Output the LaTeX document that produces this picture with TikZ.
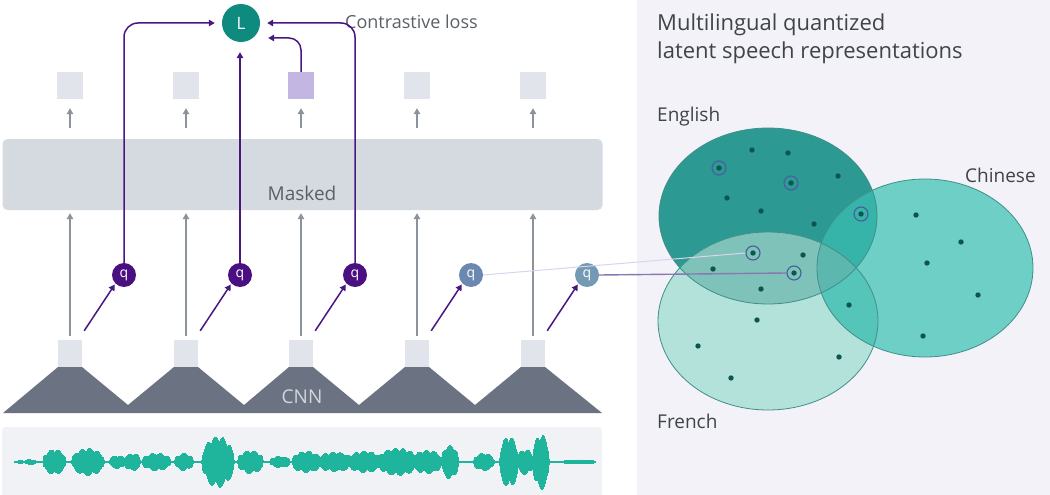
\documentclass[tikz,border=0pt]{standalone}
\usepackage{fontspec}
\setmainfont{Open Sans}
\usetikzlibrary{arrows.meta,calc}
\definecolor{purp}{HTML}{4A1682}
\definecolor{qpurp}{HTML}{4A0F80}
\definecolor{qblueA}{HTML}{6A88B0}
\definecolor{qblueB}{HTML}{7399B4}
\definecolor{garrow}{HTML}{8C929B}
\definecolor{boxgray}{HTML}{D5D9E0}
\definecolor{sqgray}{HTML}{E2E4EC}
\definecolor{sqpurp}{HTML}{C4B6E2}
\definecolor{cnngray}{HTML}{6B7382}
\definecolor{cnntxt}{HTML}{D2D6DC}
\definecolor{wavebg}{HTML}{F1F2F6}
\definecolor{wave}{HTML}{1FB59C}
\definecolor{panel}{HTML}{F2F2F8}
\definecolor{Lteal}{HTML}{0E8A7E}
\definecolor{txt}{HTML}{5B6068}
\definecolor{ttl}{HTML}{3F444B}
\definecolor{Esolo}{HTML}{2C9A93}
\definecolor{Csolo}{HTML}{6DCFC6}
\definecolor{Fsolo}{HTML}{B2E2DA}
\definecolor{ECc}{HTML}{36B4A9}
\definecolor{EFc}{HTML}{7EC2B9}
\definecolor{CFc}{HTML}{55C5BA}
\definecolor{ECFc}{HTML}{5CB8AE}
\definecolor{ellline}{HTML}{3F8F89}
\definecolor{dotc}{HTML}{0C5550}
\definecolor{ringc}{HTML}{4A5C9C}
\definecolor{lineA}{HTML}{DCD3EC}
\definecolor{lineB}{HTML}{8A78B0}
\begin{document}
\begin{tikzpicture}[x=1pt,y=-1pt,
  sqbox/.style={minimum width=26pt,minimum height=27pt,inner sep=0pt,fill=sqgray},
  cnnsq/.style={minimum width=24pt,minimum height=27pt,inner sep=0pt,fill=sqgray},
  qnode/.style={circle,minimum size=24pt,inner sep=0pt,text=white,font=\fontsize{14}{14}\selectfont},
  garr/.style={draw=garrow,line width=1.4pt,-{Triangle[length=6pt,width=6.5pt]}},
  parr/.style={draw=purp,line width=1.5pt,-{Triangle[length=6pt,width=6.5pt]}},
  ringnode/.style={circle,draw=ringc,line width=1.1pt,minimum size=14pt,inner sep=0pt},
  lbl/.style={text=txt,font=\fontsize{18}{18}\selectfont,inner sep=0pt},
  ttlstyle/.style={text=ttl,font=\fontsize{22}{22}\selectfont,inner sep=0pt,anchor=west},
  lang/.style={text=ttl,font=\fontsize{19}{19}\selectfont,inner sep=0pt,anchor=west}]
\useasboundingbox (0,0) rectangle (1050,495);
\fill[white] (0,0) rectangle (1050,495);
% right panel
\fill[panel] (637,0) rectangle (1050,495);
% waveform panel
\fill[wavebg,rounded corners=4pt] (2,427) rectangle (602,500);
\draw[wave,line width=1.6pt] (14,462) -- (596,462);
\foreach \s/\e/\a/\b in {18/23/2/1,25/36/3/1,43/66/13/1.5,72/104/14/2,110/125/7/2,125/140/9/3,143/170/9/3,175/193/9/2,202/234/26/2,238/263/12/2,270/290/6/1.5,293/320/11/4,320/350/10/5,350/380/11/5,380/415/14/6,415/440/12/6,442/458/17/5,474/494/9/2,500/518/26/5,518/533/13/5,533/549/28/4,565/593/2.5/2}{
  \pgfmathtruncatemacro\wn{(\e-\s)}
  \foreach \k in {0,...,\wn}{
    \pgfmathsetmacro\wx{\s+\k}
    \pgfmathsetmacro\we{\b+(\a-\b)*sqrt(abs(sin(180*(\wx-\s)/(\e-\s))))}
    \pgfmathsetmacro\wu{max(1.2,\we*(0.7+0.3*abs(sin(\wx*23))))}
    \pgfmathsetmacro\wd{max(1.2,\we*(0.7+0.3*abs(sin(\wx*19+40))))}
    \draw[wave,line width=1.3pt] (\wx,{462-\wu}) -- (\wx,{462+\wd});
  }
}
% CNN
\fill[cnngray] (3,413) -- (58,367) -- (82,367) -- (128,405) -- (174,367) -- (198,367) -- (244,405) -- (289,367) -- (313,367) -- (359,405) -- (405,367) -- (429,367) -- (475,405) -- (521,367) -- (545,367) -- (602,413) -- cycle;
\node[text=cnntxt,font=\fontsize{19}{19}\selectfont,inner sep=0pt] (cnnlabel) at (302,397) {CNN};
% masked box
\node[fill=boxgray,rounded corners=5pt,minimum width=600pt,minimum height=71pt,inner sep=0pt] (M) at (302.5,174.5) {};
\node[lbl,font=\fontsize{19}{19}\selectfont] (Mlabel) at (302,193) {Masked};
% columns
\foreach \i/\c in {1/70,2/186,3/301,4/417,5/533}{
  \node[cnnsq] (c\i) at (\c,353.5) {};
  \node[sqbox] (t\i) at (\c,85.5) {};
}
\node[sqbox,fill=sqpurp] (t3) at (301,85.5) {};
\node[qnode,fill=qpurp] (q1) at (124,275) {q};
\node[qnode,fill=qpurp] (q2) at (240,275) {q};
\node[qnode,fill=qpurp] (q3) at (355,275) {q};
\node[qnode,fill=qblueA] (q4) at (471,275) {q};
\node[qnode,fill=qblueB] (q5) at (587,275) {q};
\foreach \i in {1,...,5}{
  \draw[garr,shorten <=4pt,shorten >=3pt] (c\i.north) -- (c\i.north |- M.south);
  \draw[garr,shorten <=11pt,shorten >=9pt] (t\i.south |- M.north) -- (t\i.south);
  \draw[parr,shorten >=1pt] ($(c\i.north east)+(2,-9)$) -- (q\i.south west);
}
% loss
\node[circle,fill=Lteal,minimum size=38pt,inner sep=0pt,text=white,font=\fontsize{17}{17}\selectfont] (L) at (241,23) {L};
\node[lbl,anchor=west] (CL) at (345,22) {Contrastive loss};
\draw[parr,rounded corners=14pt,shorten >=7pt] (q1.north) |- (L.west);
\draw[parr,rounded corners=14pt,shorten >=7pt] (q3.north) |- (L.east);
\draw[parr,shorten >=10pt] (q2.north) -- (q2.north |- L.south);
\draw[parr,rounded corners=12pt,shorten >=8pt] (t3.north) |- ($(L.east)+(0,15)$);
% ellipses
\def\ellE{(768,216) ellipse [x radius=109pt,y radius=88pt]}
\def\ellC{(925,268) ellipse [x radius=108pt,y radius=89pt]}
\def\ellF{(768,321) ellipse [x radius=110pt,y radius=89pt]}
\fill[Esolo] \ellE;
\fill[Csolo] \ellC;
\fill[Fsolo] \ellF;
\begin{scope}\clip \ellE; \fill[ECc] \ellC; \end{scope}
\begin{scope}\clip \ellE; \fill[EFc] \ellF; \end{scope}
\begin{scope}\clip \ellC; \fill[CFc] \ellF; \end{scope}
\begin{scope}\clip \ellE; \clip \ellC; \fill[ECFc] \ellF; \end{scope}
\draw[ellline,line width=0.8pt] \ellE;
\draw[ellline,line width=0.8pt] \ellC;
\draw[ellline,line width=0.8pt] \ellF;
\foreach \p in {(752,150),(788,153),(838,176),(727,198),(761,211),(814,224),(916,215),(961,242),(803,255),(713,269),(761,289),(927,263),(978,295),(849,305),(757,320),(698,346),(839,357),(731,378),(923,336)}{
  \fill[dotc] \p circle[radius=2.7pt];
}
\foreach \i/\p in {1/{(719,168)},2/{(791,183)},3/{(861,214)},4/{(753,253)},5/{(794,273)}}{
  \node[ringnode] (r\i) at \p {};
  \fill[dotc] (r\i) circle[radius=2.7pt];
}
\draw[lineA,line width=1pt] (q4.east) -- (r4.west);
\draw[lineB,line width=1.4pt] (q5.east) -- (r5.west);
% titles
\node[ttlstyle] (T1) at (657,25) {Multilingual quantized};
\node[ttlstyle] (T2) at (657,53) {latent speech representations};
\node[lang] (en) at (657,117) {English};
\node[lang] (zh) at (965,175) {Chinese};
\node[lang] (fr) at (657,421) {French};
\end{tikzpicture}
\end{document}
